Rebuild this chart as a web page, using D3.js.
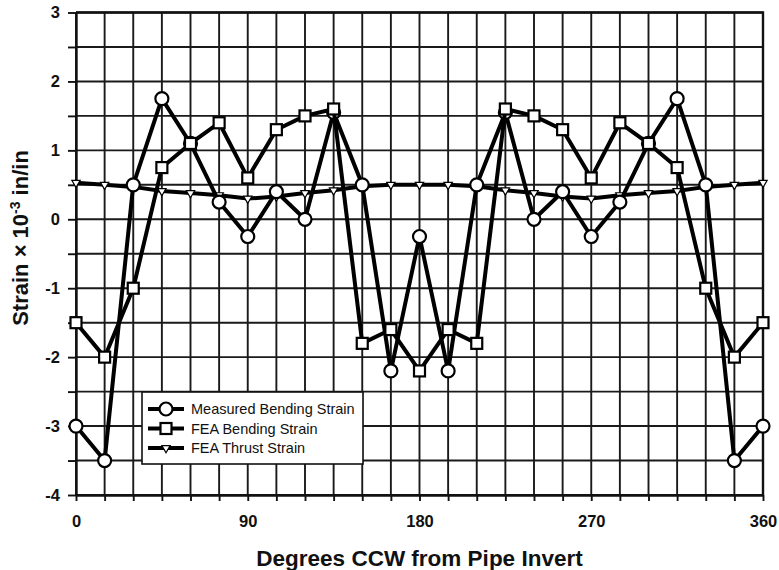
<!DOCTYPE html>
<html>
<head>
<meta charset="utf-8">
<script src="https://cdn.jsdelivr.net/npm/d3@7"></script>
<style>
  html, body { margin: 0; padding: 0; background: #fff; }
  svg { display: block; font-family: "Liberation Sans", Arial, sans-serif; }
</style>
</head>
<body>
<svg id="chart" width="779" height="570"></svg>
<script>
// ---- data ----
const degrees = [0,15,30,45,60,75,90,105,120,135,150,165,180,195,210,225,240,255,270,285,300,315,330,345,360];
const measuredBending = [-3,-3.5,0.5,1.75,1.1,0.25,-0.25,0.4,0,1.55,0.5,-2.2,-0.25,-2.2,0.5,1.55,0,0.4,-0.25,0.25,1.1,1.75,0.5,-3.5,-3];
const feaBending = [-1.5,-2,-1,0.75,1.1,1.4,0.6,1.3,1.5,1.6,-1.8,-1.6,-2.2,-1.6,-1.8,1.6,1.5,1.3,0.6,1.4,1.1,0.75,-1,-2,-1.5];
const feaThrust = [0.53,0.5,0.47,0.41,0.38,0.35,0.3,0.33,0.38,0.42,0.48,0.5,0.5,0.5,0.48,0.42,0.38,0.33,0.3,0.35,0.38,0.41,0.47,0.5,0.53];
const xTickLabels = [0,90,180,270,360];
const yTickLabels = [-4,-3,-2,-1,0,1,2,3];
const seriesNames = ["Measured Bending Strain","FEA Bending Strain","FEA Thrust Strain"];

// ---- layout ----
const svg = d3.select("#chart");
const L = 76, R = 763, T = 12.5, B = 495;
const x = d3.scaleLinear().domain([0,360]).range([L,R]);
const y = d3.scaleLinear().domain([-4,3]).range([B,T]);

// grid
const gx = d3.range(0,361,15), gy = d3.range(-4,3.01,0.5);
svg.append("g").selectAll("line").data(gx).join("line")
  .attr("x1",d=>x(d)).attr("x2",d=>x(d)).attr("y1",T).attr("y2",B)
  .attr("stroke","#1a1a1a").attr("stroke-width",1.9);
svg.append("g").selectAll("line").data(gy).join("line")
  .attr("x1",L).attr("x2",R).attr("y1",d=>y(d)).attr("y2",d=>y(d))
  .attr("stroke","#1a1a1a").attr("stroke-width",1.9);
svg.append("path").attr("d",`M${L},${T}H${R}V${B}`).attr("fill","none").attr("stroke","#111").attr("stroke-width",2.4);

// axes
const xAxis = d3.axisBottom(x).tickValues(gx).tickSize(6).tickSizeOuter(0).tickFormat(d => xTickLabels.includes(d) ? d : "");
const gxa = svg.append("g").attr("transform",`translate(0,${B})`).call(xAxis);
gxa.select(".domain").attr("stroke","#111").attr("stroke-width",2.4);
gxa.selectAll(".tick line").attr("stroke","#111").attr("stroke-width",1.9);
gxa.selectAll(".tick text").attr("font-size",16.5).attr("font-weight","bold").attr("fill","#111")
  .attr("font-family","'Liberation Sans', Arial, sans-serif").attr("y",20).attr("dy","0.71em");

const yAxis = d3.axisLeft(y).tickValues(gy).tickSize(8).tickSizeOuter(0).tickFormat(d => yTickLabels.includes(d) ? d : "");
const gya = svg.append("g").attr("transform",`translate(${L},0)`).call(yAxis);
gya.select(".domain").attr("stroke","#111").attr("stroke-width",2.4);
gya.selectAll(".tick line").attr("stroke","#111").attr("stroke-width",1.9);
gya.selectAll(".tick text").attr("font-size",16.5).attr("font-weight","bold").attr("fill","#111")
  .attr("font-family","'Liberation Sans', Arial, sans-serif").attr("x",-16);

// axis titles
svg.append("text").attr("x",(L+R)/2).attr("y",566).attr("text-anchor","middle")
  .attr("font-size",22.5).attr("font-weight","bold").attr("fill","#111").text("Degrees CCW from Pipe Invert");
const yt = svg.append("text").attr("transform",`translate(28,238) rotate(-90)`).attr("text-anchor","middle")
  .attr("font-size",22).attr("font-weight","bold").attr("fill","#111");
yt.append("tspan").text("Strain \u00D7 10");
yt.append("tspan").attr("dy",-8).attr("font-size",14).text("-3");
yt.append("tspan").attr("dy",8).text(" in/in");

// series
const line = d3.line().x((d,i)=>x(degrees[i])).y(d=>y(d));
function drawLine(vals){
  svg.append("path").datum(vals).attr("d",line).attr("fill","none")
    .attr("stroke","#000").attr("stroke-width",4).attr("stroke-linejoin","round");
}
const tri = d3.symbol().type(d3.symbolTriangle).size(30);
function marker(g, type){
  if(type===0) g.append("circle").attr("r",6.5).attr("fill","#fff").attr("stroke","#000").attr("stroke-width",2.2);
  else if(type===1) g.append("rect").attr("x",-5.5).attr("y",-5.5).attr("width",11).attr("height",11).attr("fill","#fff").attr("stroke","#000").attr("stroke-width",2.2);
  else g.append("path").attr("d",tri).attr("transform","rotate(180)").attr("fill","#fff").attr("stroke","#000").attr("stroke-width",1.2);
}
function drawMarkers(vals, type){
  vals.forEach((v,i)=>{
    const g = svg.append("g").attr("transform",`translate(${x(degrees[i])},${y(v)})`);
    marker(g,type);
  });
}
drawLine(feaThrust); drawMarkers(feaThrust,2);
drawLine(measuredBending); drawMarkers(measuredBending,0);
drawLine(feaBending); drawMarkers(feaBending,1);

// legend
const lg = svg.append("g").attr("transform","translate(142,392)");
lg.append("rect").attr("width",221).attr("height",72).attr("fill","#fff").attr("stroke","#111").attr("stroke-width",1.6);
seriesNames.forEach((name,i)=>{
  const yy = 17 + i*19.5;
  lg.append("line").attr("x1",6).attr("x2",42).attr("y1",yy).attr("y2",yy).attr("stroke","#000").attr("stroke-width",4);
  const g = lg.append("g").attr("transform",`translate(24,${yy})`);
  marker(g,i);
  lg.append("text").attr("x",49).attr("y",yy).attr("dy","0.36em").attr("font-size",14.5).attr("fill","#111").text(name);
});
</script>
</body>
</html>
